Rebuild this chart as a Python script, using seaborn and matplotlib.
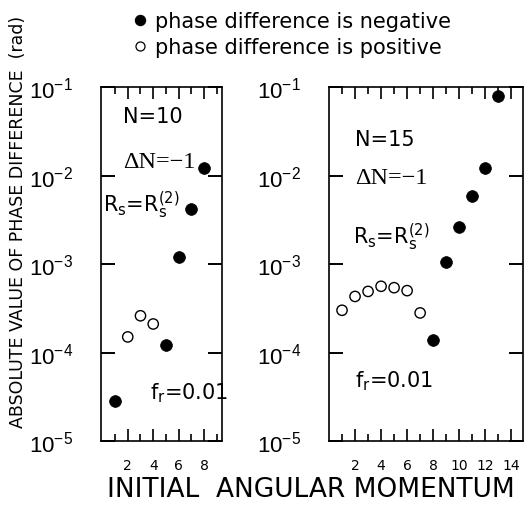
import matplotlib
matplotlib.use("Agg")
import matplotlib.pyplot as plt
import seaborn as sns
import pandas as pd
from matplotlib.ticker import FixedLocator, NullLocator

sns.set_theme(style="ticks")
plt.rcParams['font.family'] = ['DejaVu Sans']
plt.rcParams['mathtext.fontset'] = 'custom'
plt.rcParams['mathtext.rm'] = 'Liberation Sans'
plt.rcParams['mathtext.it'] = 'Liberation Sans'
plt.rcParams['mathtext.default'] = 'rm'
for k in ['text.color', 'axes.labelcolor', 'xtick.color', 'ytick.color', 'axes.edgecolor']:
    plt.rcParams[k] = 'black'

# Data: N=10 panel
l10 = [1, 2, 3, 4, 5, 6, 7, 8]
v10 = [2.8e-5, 1.5e-4, 2.6e-4, 2.1e-4, 1.2e-4, 1.2e-3, 4.2e-3, 1.2e-2]
s10 = ["neg", "pos", "pos", "pos", "neg", "neg", "neg", "neg"]
# Data: N=15 panel
l15 = [1, 2, 3, 4, 5, 6, 7, 8, 9, 10, 11, 12, 13]
v15 = [3.0e-4, 4.3e-4, 4.9e-4, 5.6e-4, 5.4e-4, 5.0e-4, 2.8e-4, 1.4e-4,
       1.05e-3, 2.6e-3, 5.8e-3, 1.2e-2, 7.9e-2]
s15 = ["pos"] * 7 + ["neg"] * 6
ytick_vals = [1e-5, 1e-4, 1e-3, 1e-2, 1e-1]
ytick_labels = [r"$10^{-5}$", r"$10^{-4}$", r"$10^{-3}$", r"$10^{-2}$", r"$10^{-1}$"]

df10 = pd.DataFrame({"l": l10, "v": v10, "sign": s10})
df15 = pd.DataFrame({"l": l15, "v": v15, "sign": s15})

W, H = 525, 510
fig = plt.figure(figsize=(W / 100, H / 100), dpi=100)

def px_axes(x0, y0, x1, y1):
    return fig.add_axes([x0 / W, 1 - y1 / H, (x1 - x0) / W, (y1 - y0) / H])

ax1 = px_axes(101, 88, 222, 442)
ax2 = px_axes(329, 88, 523, 442)

def draw(ax, df, xlim, xmaj, xmin):
    neg = df[df.sign == "neg"]
    pos = df[df.sign == "pos"]
    sns.scatterplot(data=neg, x="l", y="v", ax=ax, color="black", s=72,
                    edgecolor="black", linewidth=0.5, legend=False, zorder=3)
    sns.scatterplot(data=pos, x="l", y="v", ax=ax, facecolor="none", s=55,
                    edgecolor="black", linewidth=1.0, legend=False, zorder=3)
    ax.set_yscale("log")
    ax.set_ylim(1e-5, 1e-1)
    ax.set_xlim(*xlim)
    ax.set_xlabel("")
    ax.set_ylabel("")
    ax.yaxis.set_major_locator(FixedLocator(ytick_vals))
    ax.yaxis.set_minor_locator(NullLocator())
    ax.set_yticklabels(ytick_labels)
    ax.xaxis.set_major_locator(FixedLocator(xmaj))
    ax.xaxis.set_minor_locator(FixedLocator(xmin))
    ax.set_xticklabels([str(t) for t in xmaj])
    ax.tick_params(axis="both", which="both", direction="in", top=True, right=True,
                   color="black")
    ax.tick_params(axis="y", which="major", length=10, width=1.4, labelsize=16, pad=20)
    ax.tick_params(axis="x", which="major", length=8.5, width=1.2, labelsize=10, pad=12)
    ax.tick_params(axis="x", which="minor", length=5, width=1.2)
    for sp in ax.spines.values():
        sp.set_color("black")
        sp.set_linewidth(1.2)
    ax.set_facecolor("white")

draw(ax1, df10, (-0.1, 9.4), [2, 4, 6, 8], [1, 3, 5, 7, 9])
draw(ax2, df15, (0.0, 14.9), [2, 4, 6, 8, 10, 12, 14], [1, 3, 5, 7, 9, 11, 13])

def ftext(x, y, s, **kw):
    kw.setdefault("va", "center")
    return fig.text(x / W, 1 - y / H, s, **kw)

rs = r"$\mathregular{R_s}$=$\mathregular{R_s^{(2)}}$"
fr = r"$\mathregular{f_r}$=0.01"
# annotations left
ftext(123, 117, "N=10", fontsize=15)
ftext(123, 162, "ΔN=−1", fontsize=17.5, family="Liberation Serif")
ftext(103, 205, rs, fontsize=15)
ftext(150, 393, fr, fontsize=15)
# annotations right
ftext(355, 140, "N=15", fontsize=15)
ftext(355, 179, "ΔN=−1", fontsize=17.5, family="Liberation Serif")
ftext(353, 237, rs, fontsize=15)
ftext(355, 381, fr, fontsize=15)

# legend at top
ftext(155, 22, "phase difference is negative", fontsize=15)
ftext(155, 48, "phase difference is positive", fontsize=15)
fig.lines.append(plt.Line2D([140 / W], [1 - 21 / H], marker="o", markersize=7.2,
                            color="black", transform=fig.transFigure))
fig.lines.append(plt.Line2D([140 / W], [1 - 47 / H], marker="o", markersize=6.5,
                            markerfacecolor="none", markeredgecolor="black",
                            markeredgewidth=0.9, color="black", transform=fig.transFigure))

# axis labels
ftext(18, 222, "ABSOLUTE VALUE OF PHASE DIFFERENCE  (rad)",
      rotation=90, fontsize=12.5, ha="center")
ftext(311, 490, "INITIAL  ANGULAR MOMENTUM", fontsize=19, ha="center")

fig.savefig("out.png", dpi=100, facecolor="white")
